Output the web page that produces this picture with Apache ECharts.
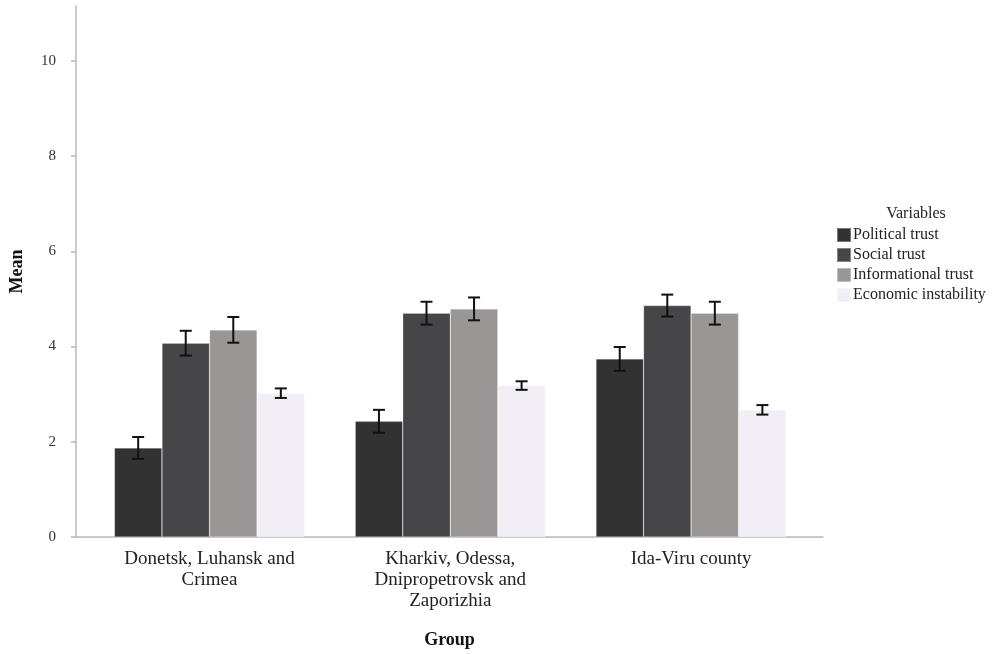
<!DOCTYPE html>
<html>
<head>
<meta charset="utf-8">
<script src="https://cdn.jsdelivr.net/npm/echarts@6/dist/echarts.min.js"></script>
<style>html,body{margin:0;padding:0;background:#fff;}#c{width:1004px;height:654px;}</style>
</head>
<body>
<div id="c"></div>
<script>
const categories = ['Donetsk, Luhansk and\nCrimea', 'Kharkiv, Odessa,\nDnipropetrovsk and\nZaporizhia', 'Ida-Viru county'];
const seriesNames = ['Political trust', 'Social trust', 'Informational trust', 'Economic instability'];
const politicalTrust = [1.87, 2.43, 3.74];
const socialTrust = [4.07, 4.70, 4.86];
const informationalTrust = [4.35, 4.79, 4.70];
const economicInstability = [3.02, 3.18, 2.67];
const politicalErr = [0.23, 0.24, 0.25];
const socialErr = [0.26, 0.24, 0.23];
const informationalErr = [0.27, 0.24, 0.24];
const economicErr = [0.10, 0.09, 0.10];
const yTicks = [0, 2, 4, 6, 8, 10];

const means = [politicalTrust, socialTrust, informationalTrust, economicInstability];
const errs = [politicalErr, socialErr, informationalErr, economicErr];
const colors = ['#323232', '#464648', '#9a9696', '#f1eff5'];
const CAT_GAP = 0.21;
const serif = 'Liberation Serif';

const chart = echarts.init(document.getElementById('c'));

const barSeries = seriesNames.map((name, k) => ({
  name: name,
  type: 'bar',
  barGap: '0%',
  barCategoryGap: (CAT_GAP * 100) + '%',
  itemStyle: { color: colors[k], borderColor: 'rgba(255,255,255,0.35)', borderWidth: 0.6 },
  data: means[k].map((v, i) => [i, v]),
  z: 2
}));

const errData = [];
means.forEach((arr, k) => arr.forEach((v, i) => errData.push([i, v - errs[k][i], v + errs[k][i], k])));

const errSeries = {
  type: 'custom',
  name: 'err',
  z: 5,
  data: errData,
  encode: { x: 0, y: [1, 2] },
  renderItem: function (params, api) {
    const cat = api.value(0), lo = api.value(1), hi = api.value(2), k = api.value(3);
    const band = api.size([1, 0])[0];
    const bw = band * (1 - CAT_GAP) / 4;
    const cx = api.coord([cat, 0])[0] + (k - 1.5) * bw;
    const yLo = api.coord([cat, lo])[1];
    const yHi = api.coord([cat, hi])[1];
    const cap = 6;
    const st = { stroke: '#111', lineWidth: 2 };
    return {
      type: 'group',
      children: [
        { type: 'line', shape: { x1: cx, y1: yLo, x2: cx, y2: yHi }, style: st },
        { type: 'line', shape: { x1: cx - cap, y1: yLo, x2: cx + cap, y2: yLo }, style: st },
        { type: 'line', shape: { x1: cx - cap, y1: yHi, x2: cx + cap, y2: yHi }, style: st }
      ]
    };
  }
};

chart.setOption({
  animation: false,
  backgroundColor: '#fff',
  title: {
    text: 'Variables',
    left: 916,
    top: 206,
    textAlign: 'center',
    padding: 0,
    textStyle: { fontFamily: serif, fontSize: 16, fontWeight: 'normal', color: '#222' }
  },
  legend: {
    data: seriesNames,
    orient: 'vertical',
    left: 836,
    top: 227,
    padding: 0,
    itemWidth: 14,
    itemHeight: 14,
    itemGap: 4,
    icon: 'rect',
    textStyle: { fontFamily: serif, fontSize: 16, lineHeight: 16, color: '#222', padding: [0, 0, 0, -3] }
  },
  grid: { left: 76, top: 6, width: 747, bottom: 117, containLabel: false, outerBoundsMode: 'none' },
  xAxis: {
    type: 'value',
    min: -0.5545,
    max: 2.548,
    name: 'Group',
    nameLocation: 'middle',
    nameGap: 94,
    nameTextStyle: { fontFamily: serif, fontSize: 18, fontWeight: 'bold', color: '#111' },
    axisLine: { show: true, onZero: false, lineStyle: { color: '#b8b8b8', width: 1.5 } },
    axisTick: { show: false },
    splitLine: { show: false },
    axisLabel: {
      customValues: [0, 1, 2],
      formatter: v => categories[Math.round(v)],
      fontFamily: serif,
      fontSize: 19,
      lineHeight: 21,
      color: '#222',
      margin: 12
    }
  },
  yAxis: {
    type: 'value',
    min: 0,
    max: 11.15,
    name: 'Mean',
    nameLocation: 'middle',
    nameGap: 50,
    nameTextStyle: { fontFamily: serif, fontSize: 18, fontWeight: 'bold', color: '#111' },
    axisLine: { show: true, onZero: false, lineStyle: { color: '#b8b8b8', width: 1.5 } },
    axisTick: { show: true, customValues: yTicks, length: 5, lineStyle: { color: '#b8b8b8', width: 1.5 } },
    splitLine: { show: false },
    axisLabel: { customValues: yTicks, fontFamily: serif, fontSize: 15, color: '#333', margin: 20 }
  },
  series: [...barSeries, errSeries]
});
</script>
</body>
</html>
